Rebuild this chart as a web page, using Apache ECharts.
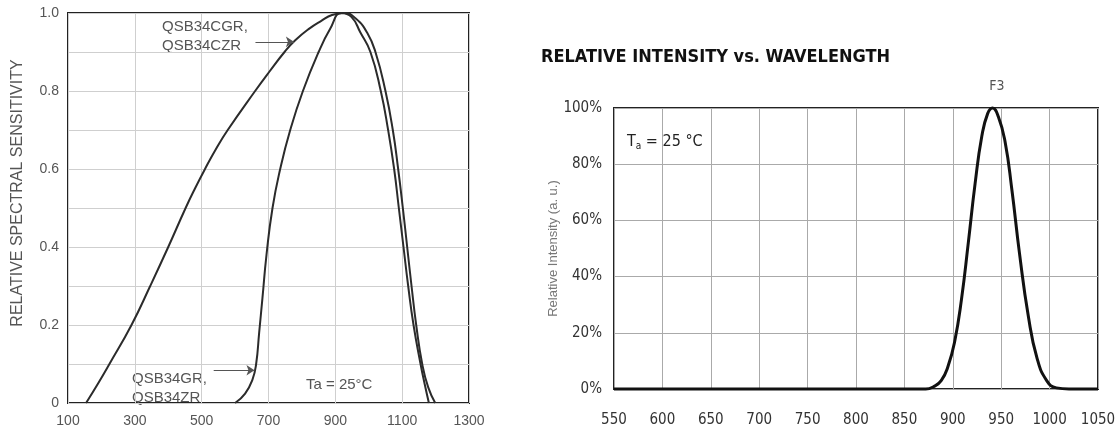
<!DOCTYPE html>
<html>
<head>
<meta charset="utf-8">
<script src="https://cdn.jsdelivr.net/npm/echarts@6/dist/echarts.min.js"></script>
<style>
  html, body { margin: 0; padding: 0; background: #fff; }
  #box { width: 1120px; height: 430px; }
</style>
</head>
<body>
<div id="box"></div>
<script>
// left chart: relative spectral sensitivity (nm / relative)
var broadNm  = [154, 190, 224, 290, 346, 400, 452, 480, 510, 542, 578, 660, 703, 748, 780, 822, 858, 890, 928, 962, 995, 1020, 1050, 1072, 1088, 1102, 1115, 1128, 1142, 1160, 1178, 1199];
var broadVal = [0, 0.05, 0.10, 0.20, 0.30, 0.40, 0.50, 0.55, 0.60, 0.65, 0.70, 0.80, 0.85, 0.90, 0.93, 0.96, 0.98, 0.995, 1.0, 0.985, 0.95, 0.90, 0.80, 0.70, 0.60, 0.50, 0.40, 0.30, 0.20, 0.10, 0.04, 0];
var narrowNm  = [600, 630, 652, 663, 672, 682, 694, 712, 735, 765, 803, 850, 885, 918, 948, 975, 1005, 1036, 1058, 1076, 1090, 1104, 1118, 1134, 1155, 1167, 1180];
var narrowVal = [0, 0.024, 0.06, 0.10, 0.18, 0.27, 0.38, 0.50, 0.60, 0.70, 0.80, 0.90, 0.96, 1.0, 0.99, 0.95, 0.90, 0.80, 0.70, 0.60, 0.50, 0.40, 0.30, 0.20, 0.10, 0.05, 0];

// right chart: relative intensity (nm / %)
var f3Nm  = [550, 872, 880, 888, 895, 902, 909, 916, 923, 930, 936, 941, 947, 954, 961, 969, 978, 987, 997, 1007, 1020, 1050];
var f3Val = [0, 0, 0.8, 3, 8, 17, 32, 52, 73, 90, 98, 100, 97, 88, 71, 48, 26, 11, 3, 0.4, 0, 0];

// arrow pointers [from, to] in data units
var arrowCG = [[661, 0.926], [776, 0.926]];
var arrowGR = [[536, 0.084], [658, 0.084]];

function pairs(xs, ys) {
    return xs.map(function (x, i) { return [x, ys[i]]; });
}

window.onload = function () {
    var chart = echarts.init(document.getElementById('box'));

    var plain = 'Liberation Sans, Arial, sans-serif';
    var narrow = "'Liberation Sans Narrow', 'DejaVu Sans Condensed', sans-serif";
    var noComma = function (v) { return String(v); };

    var arrowStyle = {
        silent: true,
        symbol: ['none', 'arrow'],
        symbolSize: 8,
        label: {show: false},
        lineStyle: {color: '#555', width: 1, type: 'solid'}
    };

    var option = {
        animation: false,
        title: {
            text: 'RELATIVE INTENSITY vs. WAVELENGTH',
            left: 536,
            top: 43,
            textStyle: {fontFamily: narrow, fontWeight: 'bold', fontSize: 18, color: '#111'}
        },
        grid: [
            {left: 68, top: 13, width: 401, height: 390, show: true, borderColor: '#222', borderWidth: 2, backgroundColor: 'transparent'},
            {left: 614, top: 108, width: 484, height: 281, show: true, borderColor: '#222', borderWidth: 2, backgroundColor: 'transparent'}
        ],
        xAxis: [
            {
                gridIndex: 0, type: 'value', min: 100, max: 1300, interval: 200,
                axisLine: {show: false}, axisTick: {show: false},
                axisLabel: {margin: 11, fontFamily: plain, fontSize: 14, color: '#555', formatter: noComma},
                splitLine: {lineStyle: {color: '#cfcfcf', width: 1}}
            },
            {
                gridIndex: 1, type: 'value', min: 550, max: 1050, interval: 50,
                axisLine: {show: false}, axisTick: {show: false},
                axisLabel: {margin: 24, fontFamily: narrow, fontSize: 15, color: '#333', formatter: noComma},
                splitLine: {lineStyle: {color: '#aaa', width: 1}}
            }
        ],
        yAxis: [
            {
                gridIndex: 0, type: 'value', min: 0, max: 1, interval: 0.1,
                axisLine: {show: false}, axisTick: {show: false},
                axisLabel: {
                    margin: 9, fontFamily: plain, fontSize: 14, color: '#555',
                    formatter: function (v) {
                        var k = Math.round(v * 10);
                        if (k % 2) return '';
                        if (k === 0) return '0';
                        return (k / 10).toFixed(1);
                    }
                },
                splitLine: {lineStyle: {color: '#cfcfcf', width: 1}}
            },
            {
                gridIndex: 1, type: 'value', min: 0, max: 100, interval: 20,
                name: 'Relative Intensity (a. u.)',
                nameLocation: 'middle', nameGap: 54, nameRotate: 90,
                nameTextStyle: {fontFamily: plain, fontSize: 13, color: '#777'},
                axisLine: {show: false}, axisTick: {show: false},
                axisLabel: {margin: 12, fontFamily: narrow, fontSize: 15, color: '#333', formatter: '{value}%'},
                splitLine: {lineStyle: {color: '#aaa', width: 1}}
            }
        ],
        series: [
            {
                name: 'QSB34CGR, QSB34CZR', type: 'line', xAxisIndex: 0, yAxisIndex: 0,
                data: pairs(broadNm, broadVal), smooth: 0.5, showSymbol: false,
                lineStyle: {color: '#2b2b2b', width: 2},
                markLine: Object.assign({data: [[{coord: arrowCG[0]}, {coord: arrowCG[1]}]]}, arrowStyle)
            },
            {
                name: 'QSB34GR, QSB34ZR', type: 'line', xAxisIndex: 0, yAxisIndex: 0,
                data: pairs(narrowNm, narrowVal), smooth: 0.5, showSymbol: false,
                lineStyle: {color: '#2b2b2b', width: 2},
                markLine: Object.assign({data: [[{coord: arrowGR[0]}, {coord: arrowGR[1]}]]}, arrowStyle)
            },
            {
                name: 'F3', type: 'line', xAxisIndex: 1, yAxisIndex: 1,
                data: pairs(f3Nm, f3Val), smooth: 0.5, showSymbol: false, clip: false,
                lineStyle: {color: '#111', width: 3}
            }
        ],
        graphic: [
            {type: 'text', x: 18, y: 193, rotation: Math.PI / 2,
                style: {text: 'RELATIVE SPECTRAL SENSITIVITY', fill: '#555', font: '16px ' + plain, align: 'center', verticalAlign: 'middle'}},
            {type: 'text', x: 162, y: 17, style: {text: 'QSB34CGR,\nQSB34CZR', fill: '#555', font: '15px ' + plain, lineHeight: 19}},
            {type: 'text', x: 132, y: 369, style: {text: 'QSB34GR,\nQSB34ZR', fill: '#555', font: '15px ' + plain, lineHeight: 19}},
            {type: 'text', x: 306, y: 377, style: {text: 'Ta = 25\u00B0C', fill: '#555', font: '15px ' + plain}},
            {type: 'text', x: 997, y: 86, style: {text: 'F3', fill: '#555', font: '14px ' + narrow, align: 'center', verticalAlign: 'middle'}},
            {type: 'text', x: 627, y: 133, style: {
                text: '{t|T}{s|a}{t| = 25 \u00B0C}',
                rich: {
                    t: {fontFamily: narrow, fontSize: 16, fill: '#222', color: '#222'},
                    s: {fontFamily: narrow, fontSize: 10, fill: '#222', color: '#222', verticalAlign: 'bottom', padding: [8, 0, 0, 0]}
                }
            }}
        ]
    };

    chart.setOption(option);
};
</script>
</body>
</html>
